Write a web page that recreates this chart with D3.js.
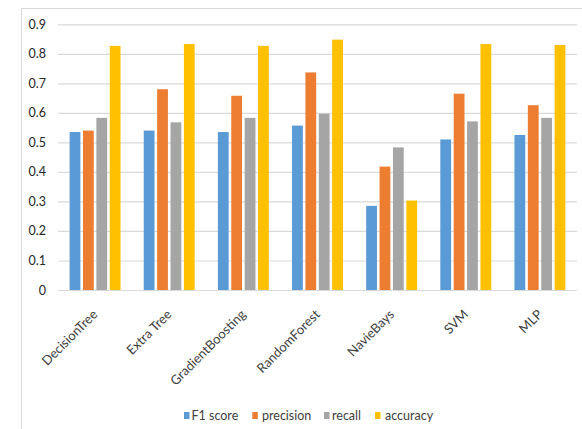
<!DOCTYPE html>
<html>
<head>
<meta charset="utf-8">
<script src="https://cdn.jsdelivr.net/npm/d3@7"></script>
<style>
  html, body { margin: 0; padding: 0; background: #fff; }
  svg { display: block; }
</style>
</head>
<body>
<svg id="chart" width="582" height="429"></svg>
<script>
// Model names along the x axis
const categories = ["DecisionTree", "Extra Tree", "GradientBoosting", "RandomForest", "NavieBays", "SVM", "MLP"];
// Metric series
const seriesNames = ["F1 score", "precision", "recall", "accuracy"];
const f1Score   = [0.535, 0.540, 0.535, 0.557, 0.285, 0.510, 0.525];
const precision = [0.540, 0.680, 0.658, 0.737, 0.418, 0.665, 0.626];
const recall    = [0.583, 0.568, 0.583, 0.597, 0.483, 0.571, 0.583];
const accuracy  = [0.827, 0.833, 0.827, 0.848, 0.303, 0.833, 0.830];
const yTicks = [0, 0.1, 0.2, 0.3, 0.4, 0.5, 0.6, 0.7, 0.8, 0.9];
const colors = ["#5B9BD5", "#ED7D31", "#A5A5A5", "#FFC000"];

const seriesValues = [f1Score, precision, recall, accuracy];
const rows = categories.map((c, i) => ({
  name: c,
  values: seriesNames.map((s, j) => ({ key: s, value: seriesValues[j][i] }))
}));

const svg = d3.select("#chart");
const W = 582, H = 429;
const plot = { left: 58, right: 577, top: 24.3, bottom: 290 };
const font = "Lato, 'Open Sans', sans-serif";

// Chart frame: top and left edges
svg.append("line").attr("x1", 21).attr("x2", W).attr("y1", 8.5).attr("y2", 8.5)
  .attr("stroke", "#d9d9d9").attr("stroke-width", 1);
svg.append("line").attr("x1", 21.5).attr("x2", 21.5).attr("y1", 8).attr("y2", H)
  .attr("stroke", "#d9d9d9").attr("stroke-width", 1);

const x0 = d3.scaleBand().domain(categories).range([plot.left, plot.right])
  .paddingInner(0.313).paddingOuter(0.1565);
const x1 = d3.scaleBand().domain(seriesNames).range([0, x0.bandwidth()])
  .paddingInner(0.194).paddingOuter(0);
const y = d3.scaleLinear().domain([0, 0.9]).range([plot.bottom, plot.top]);
const color = d3.scaleOrdinal().domain(seriesNames).range(colors);

// Gridlines and y tick labels
const yAxis = svg.append("g").attr("transform", `translate(${plot.left},0)`)
  .call(d3.axisLeft(y).tickValues(yTicks).tickSize(-(plot.right - plot.left))
    .tickPadding(12).tickFormat(d => d === 0 ? "0" : d3.format(".1f")(d)));
yAxis.select(".domain").remove();
yAxis.selectAll(".tick line").attr("stroke", "#d9d9d9").attr("stroke-width", 1.2);
yAxis.selectAll(".tick text").attr("fill", "#262626")
  .style("font-family", font).style("font-size", "12.5px");

// Bars
const groups = svg.append("g").selectAll("g").data(rows).join("g")
  .attr("transform", d => `translate(${x0(d.name)},0)`);
groups.selectAll("rect").data(d => d.values).join("rect")
  .attr("x", d => x1(d.key))
  .attr("y", d => y(d.value))
  .attr("width", x1.bandwidth())
  .attr("height", d => y(0) - y(d.value))
  .attr("fill", d => color(d.key));

// Rotated category labels
const xAxis = svg.append("g").attr("transform", `translate(0,${plot.bottom})`)
  .call(d3.axisBottom(x0).tickSize(0).tickPadding(0));
xAxis.select(".domain").remove();
xAxis.selectAll(".tick text")
  .attr("text-anchor", "end")
  .attr("transform", "translate(0,22) rotate(-45)")
  .attr("dy", "0.35em")
  .attr("fill", "#404040")
  .style("font-family", font).style("font-size", "13px");

// Legend
const legendItems = [
  { key: "F1 score", x: 184, tx: 191.5 },
  { key: "precision", x: 252.3, tx: 262 },
  { key: "recall", x: 324, tx: 332 },
  { key: "accuracy", x: 375, tx: 385 }
];
const legend = svg.append("g").selectAll("g").data(legendItems).join("g");
legend.append("rect").attr("x", d => d.x).attr("y", 412).attr("width", 5.5).attr("height", 7)
  .attr("fill", d => color(d.key));
legend.append("text").attr("x", d => d.tx).attr("y", 415.5).attr("dy", "0.35em")
  .attr("fill", "#404040")
  .style("font-family", font).style("font-size", "12.5px")
  .text(d => d.key);
</script>
</body>
</html>
